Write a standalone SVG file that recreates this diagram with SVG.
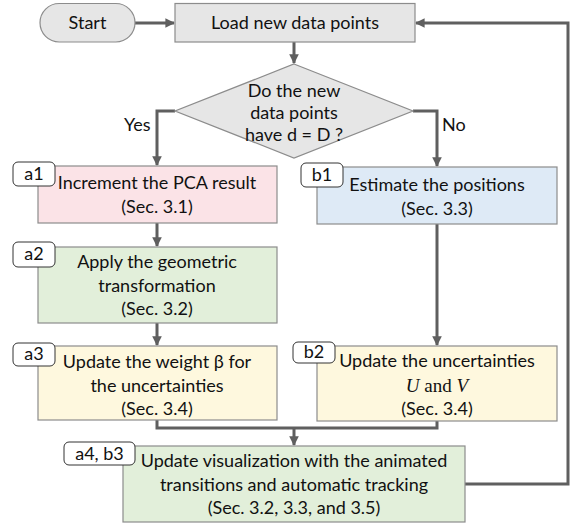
<svg xmlns="http://www.w3.org/2000/svg" width="577" height="527" viewBox="0 0 577 527">
<defs>
<style>
.box{stroke:#8c8c8c;stroke-width:1.2}
.tag{fill:#fff;stroke:#333;stroke-width:1}
.t{font-family:Lato,"Open Sans","Liberation Sans",sans-serif;font-size:18px;fill:#111;text-anchor:middle}
.lbl{font-family:Lato,"Open Sans","Liberation Sans",sans-serif;font-size:18px;fill:#111}
.c{fill:none;stroke:#5f5f5f;stroke-width:3}
</style>
<marker id="ah" viewBox="0 0 10 10" refX="9" refY="5" markerWidth="3.2" markerHeight="3.2" orient="auto" markerUnits="strokeWidth">
<path d="M0,0 L10,5 L0,10 z" fill="#5f5f5f"/>
</marker>
</defs>
<rect width="577" height="527" fill="#fff"/>

<g id="connectors">
<path class="c" d="M135,23 H174" marker-end="url(#ah)"/>
<path class="c" d="M294,42 V63" marker-end="url(#ah)"/>
<path class="c" d="M175,111 H157 V165" marker-end="url(#ah)"/>
<path class="c" d="M413,111 H437 V166" marker-end="url(#ah)"/>
<path class="c" d="M157,223 V246" marker-end="url(#ah)"/>
<path class="c" d="M157,323 V345" marker-end="url(#ah)"/>
<path class="c" d="M437,224 V345" marker-end="url(#ah)"/>
<path class="c" d="M157,420 V428 H437 V421"/>
<path class="c" d="M294,428 V445" marker-end="url(#ah)"/>
<path class="c" d="M465,484 H568 V23 H416" marker-end="url(#ah)"/>
<text class="lbl" x="124" y="131">Yes</text>
<text class="lbl" x="442" y="131">No</text>
</g>

<g id="start">
<rect class="box" x="40" y="3.5" width="95" height="38.5" rx="19.25" fill="#e6e6e6"/>
<text class="t" x="87.5" y="28.5">Start</text>
</g>

<g id="load">
<rect class="box" x="175" y="3.5" width="240" height="38.5" fill="#e6e6e6"/>
<text class="t" x="295" y="28.5">Load new data points</text>
</g>

<g id="decision">
<polygon class="box" points="294,64 413,111 294,158 175,111" fill="#e6e6e6"/>
<text class="t" x="294" y="97">Do the new</text>
<text class="t" x="294" y="119">data points</text>
<text class="t" x="294" y="141">have d = D ?</text>
</g>

<g id="a1">
<rect class="box" x="38" y="166" width="239" height="57" fill="#fbe3e7"/>
<text class="t" x="157" y="189">Increment the PCA result</text>
<text class="t" x="157" y="213">(Sec. 3.1)</text>
<rect class="tag" x="13" y="162" width="42" height="24" rx="5"/>
<text class="t" x="34" y="180">a1</text>
</g>

<g id="a2">
<rect class="box" x="38" y="247" width="239" height="76" fill="#e2efda"/>
<text class="t" x="157" y="268">Apply the geometric</text>
<text class="t" x="157" y="292">transformation</text>
<text class="t" x="157" y="315">(Sec. 3.2)</text>
<rect class="tag" x="13" y="242" width="42" height="25" rx="5"/>
<text class="t" x="34" y="260">a2</text>
</g>

<g id="a3">
<rect class="box" x="38" y="346" width="239" height="74" fill="#fef8de"/>
<text class="t" x="157" y="368">Update the weight β for</text>
<text class="t" x="157" y="392">the uncertainties</text>
<text class="t" x="157" y="415">(Sec. 3.4)</text>
<rect class="tag" x="13" y="343" width="42" height="23" rx="5"/>
<text class="t" x="34" y="360">a3</text>
</g>

<g id="b1">
<rect class="box" x="317" y="167" width="240" height="57" fill="#deeaf6"/>
<text class="t" x="437" y="191">Estimate the positions</text>
<text class="t" x="437" y="215">(Sec. 3.3)</text>
<rect class="tag" x="301" y="163" width="42" height="24" rx="5"/>
<text class="t" x="322" y="181">b1</text>
</g>

<g id="b2">
<rect class="box" x="317" y="346" width="240" height="75" fill="#fef8de"/>
<text class="t" x="437" y="367">Update the uncertainties</text>
<text class="t" x="437" y="392" style="font-family:'Liberation Serif',serif;font-size:19px"><tspan font-style="italic">U</tspan> and <tspan font-style="italic">V</tspan></text>
<text class="t" x="437" y="415">(Sec. 3.4)</text>
<rect class="tag" x="293" y="342" width="42" height="21" rx="5"/>
<text class="t" x="314" y="358">b2</text>
</g>

<g id="a4b3">
<rect class="box" x="123" y="446" width="342" height="76" fill="#e2efda"/>
<text class="t" x="294" y="467">Update visualization with the animated</text>
<text class="t" x="294" y="491">transitions and automatic tracking</text>
<text class="t" x="294" y="514">(Sec. 3.2, 3.3, and 3.5)</text>
<rect class="tag" x="64" y="442" width="71" height="23" rx="5"/>
<text class="t" x="99.5" y="459.5">a4, b3</text>
</g>
</svg>
